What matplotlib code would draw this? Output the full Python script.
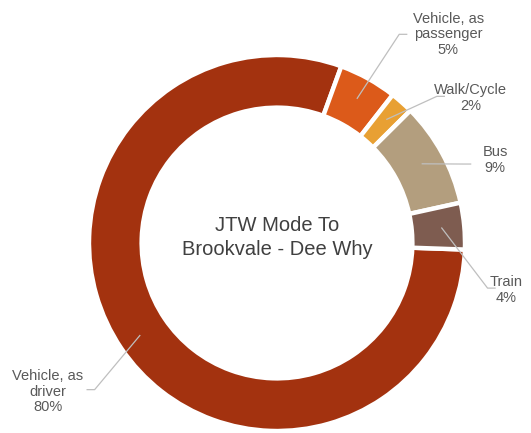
import matplotlib.pyplot as plt
import numpy as np

plt.rcParams['font.family'] = ['Liberation Sans', 'DejaVu Sans']

modes = ['Vehicle, as\ndriver', 'Vehicle, as\npassenger', 'Walk/Cycle', 'Bus', 'Train']
shares = [80, 5, 2, 9, 4]
colors = ['#A3320F', '#DC5A1A', '#E8A033', '#B39E7E', '#7E5C50']
title = 'JTW Mode To\nBrookvale - Dee Why'

# label positions (data units, ring radius = 1)
label_xy = [(-1.22, -0.79), (0.91, 1.11), (1.03, 0.77), (1.16, 0.44), (1.22, -0.25)]
# elbow points of the leader lines
elbow_xy = [(-0.97, -0.78), (0.65, 1.11), (0.85, 0.78), (0.99, 0.42), (1.12, -0.24)]

fig = plt.figure(figsize=(5.31, 4.33), dpi=100)
ax = fig.add_axes([0, 0, 1, 1])

wedges, _ = ax.pie(shares, colors=colors, startangle=-2, counterclock=False,
                   radius=1.0,
                   wedgeprops=dict(width=0.28, edgecolor='white', linewidth=3.2))

for w, lab, share, (lx, ly), (ex, ey) in zip(wedges, modes, shares, label_xy, elbow_xy):
    mid = np.deg2rad((w.theta1 + w.theta2) / 2)
    px, py = 0.88 * np.cos(mid), 0.88 * np.sin(mid)
    step = 0.04 if lx > 0 else -0.04
    ax.plot([px, ex, ex + step], [py, ey, ey], color='#BFBFBF', lw=0.9, zorder=3)
    ax.text(lx, ly, f'{lab}\n{share}%', ha='center', va='center',
            fontsize=10.5, color='#595959', linespacing=1.15)

ax.text(0.0, 0.03, title, ha='center', va='center', fontsize=14.5,
        color='#404040', linespacing=1.35)

ax.set_xlim(-277 / 188, (531 - 277) / 188)
ax.set_ylim(-(433 - 243) / 188, 243 / 188)
ax.set_aspect('equal')
ax.axis('off')

plt.savefig('out.png', dpi=100)
